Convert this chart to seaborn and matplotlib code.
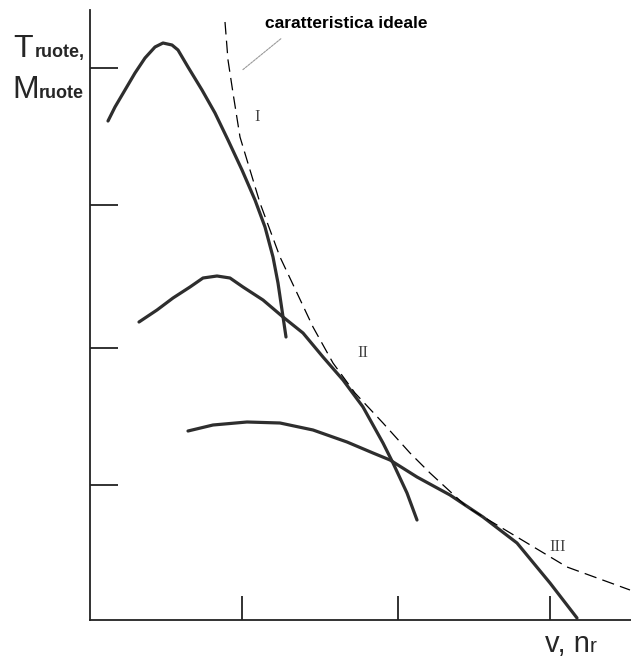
import matplotlib
matplotlib.use("Agg")
import matplotlib.pyplot as plt
import seaborn as sns

# ---- data (x = speed, y = wheel torque, arbitrary units) ----
gear1_x = [18, 25, 35, 45, 55, 65, 73, 82, 88, 98, 112, 125, 138, 152, 165, 175, 183, 188, 192, 196]
gear1_y = [499, 513, 530, 547, 562, 573, 577, 575, 570, 553, 530, 507, 480, 450, 420, 393, 363, 337, 310, 283]

gear2_x = [49, 67, 83, 100, 113, 127, 140, 153, 173, 193, 213, 233, 253, 273, 293, 303, 317, 327]
gear2_y = [298, 310, 322, 333, 342, 344, 342, 333, 320, 303, 287, 263, 240, 213, 177, 157, 127, 100]

gear3_x = [98, 123, 157, 190, 223, 257, 283, 300, 327, 360, 393, 427, 460, 487]
gear3_y = [189, 195, 198, 197, 190, 178, 167, 160, 143, 125, 103, 77, 37, 2]

ideal_x = [135, 138, 143, 150, 160, 170, 180, 190, 207, 223, 243, 265, 293, 320, 340, 377, 427, 477, 540]
ideal_y = [598, 560, 527, 483, 450, 417, 390, 363, 327, 293, 257, 227, 197, 167, 147, 113, 83, 53, 30]

ytick_pos = [552, 415, 272, 135]
xtick_pos = [152, 308, 460]

gear_labels = ["I", "II", "III"]
gear_label_pos = [(167, 503), (273, 267), (468, 73)]

W, H = 631, 660
sns.set_style("white")
plt.rcParams["font.family"] = ["Liberation Sans", "DejaVu Sans"]

fig = plt.figure(figsize=(W / 100, H / 100), dpi=100)
ax = fig.add_axes([90 / W, 40 / H, (W - 90) / W, 610 / H])
ax.set_xlim(0, 541)
ax.set_ylim(0, 610)

curve_kw = dict(color="#2e2e2e", linewidth=2.3, ax=ax, sort=False)
sns.lineplot(x=gear1_x, y=gear1_y, **curve_kw)
sns.lineplot(x=gear2_x, y=gear2_y, **curve_kw)
sns.lineplot(x=gear3_x, y=gear3_y, **curve_kw)
for ln in ax.lines:
    ln.set_solid_joinstyle("round")
    ln.set_solid_capstyle("round")
sns.lineplot(x=ideal_x, y=ideal_y, color="black", linewidth=0.9, ax=ax, sort=False)
ax.lines[-1].set_linestyle((0, (10, 5)))

for lab, (x, y) in zip(gear_labels, gear_label_pos):
    ax.text(x, y, lab, family="Liberation Serif", fontsize=12, color="#444444",
            ha="center", va="center")

# spines & ticks
for s in ["top", "right"]:
    ax.spines[s].set_visible(False)
for s in ["left", "bottom"]:
    ax.spines[s].set_color("#222222")
    ax.spines[s].set_linewidth(1.3)
ax.set_yticks(ytick_pos)
ax.set_xticks(xtick_pos)
ax.set_yticklabels([])
ax.set_xticklabels([])
ax.tick_params(axis="y", direction="in", length=20, width=1.3, color="#222222", left=True)
ax.tick_params(axis="x", direction="in", length=17, width=1.3, color="#222222", bottom=True)

# annotation "caratteristica ideale"
ax.annotate("", xy=(150, 548), xytext=(193, 583),
            arrowprops=dict(arrowstyle="-", color="#999999", lw=0.8, linestyle=(0, (2, 1))))
fig.text(265 / W, 1 - 23 / H, "caratteristica ideale", fontsize=12.5,
         fontweight="bold", ha="left", va="center", color="black")

# y-axis label
fig.text(13 / W, 1 - 57 / H, "T", fontsize=23, ha="left", va="baseline")
fig.text(35 / W, 1 - 57 / H, "ruote,", fontsize=13, fontweight="bold", ha="left", va="baseline")
fig.text(12 / W, 1 - 98 / H, "M", fontsize=23, ha="left", va="baseline")
fig.text(39 / W, 1 - 98 / H, "ruote", fontsize=13, fontweight="bold", ha="left", va="baseline")

# x-axis label
t1 = fig.text(545 / W, 1 - 652 / H, "v, n", fontsize=21, ha="left", va="baseline")
fig.canvas.draw()
bb = t1.get_window_extent()
fig.text(bb.x1 / W, 1 - 652 / H, "r", fontsize=15, ha="left", va="baseline")

fig.savefig("out.png", dpi=100)
